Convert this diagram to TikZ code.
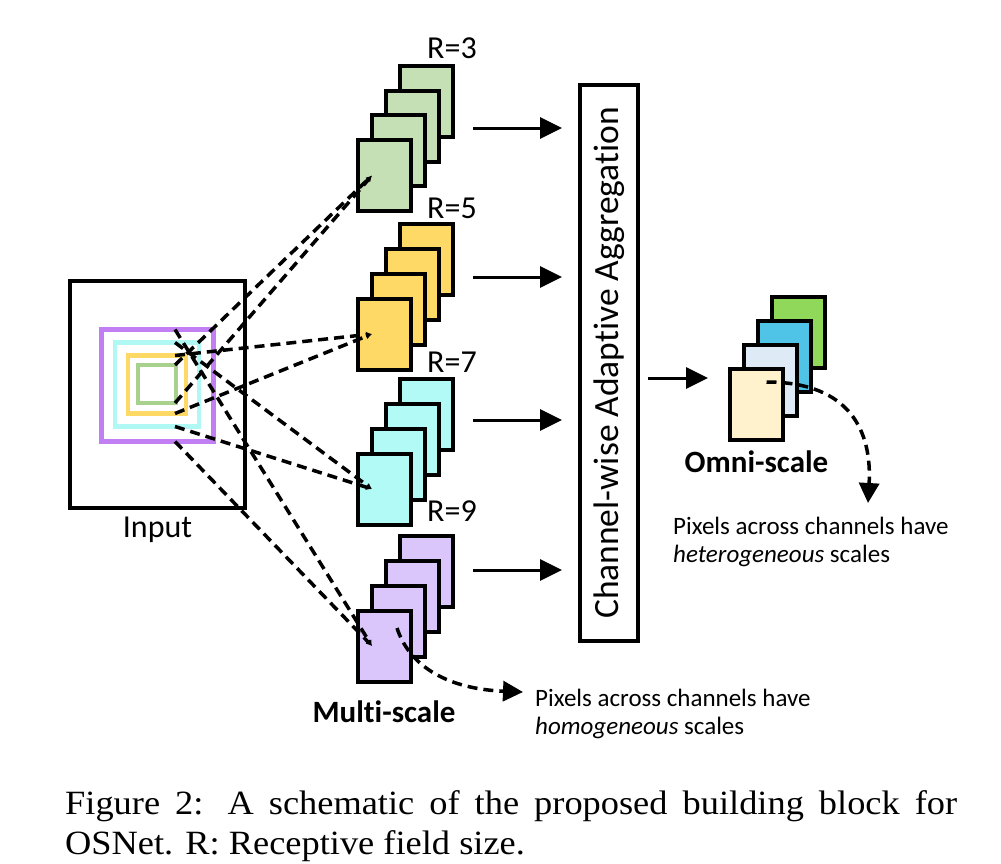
\documentclass[tikz,border=0pt]{standalone}
\usepackage{fontspec}
\setmainfont[Ligatures=NoCommon]{Carlito}
\newfontfamily\capfont[FakeStretch=1.07]{Liberation Serif}
\usetikzlibrary{positioning,calc,arrows.meta}

\definecolor{rfgreen}{HTML}{A9D18E}
\definecolor{rforange}{HTML}{FFD966}
\definecolor{rfcyan}{HTML}{AFF8F4}
\definecolor{rfpurple}{HTML}{C27FF3}
\definecolor{cdgreen}{HTML}{C5E0B4}
\definecolor{cdorange}{HTML}{FFD966}
\definecolor{cdcyan}{HTML}{B1FAF6}
\definecolor{cdpurple}{HTML}{DAC6FB}
\definecolor{omcream}{HTML}{FFF2CC}
\definecolor{omlight}{HTML}{DEEBF7}
\definecolor{omblue}{HTML}{4FC4E6}
\definecolor{omgreen}{HTML}{8FD85A}

\begin{document}
\begin{tikzpicture}[x=1pt,y=-1pt,
    card/.style={draw, line width=4pt, minimum width=53pt, minimum height=71pt, inner sep=0pt, outer sep=0pt},
    field/.style={draw=#1, line width=4.5pt, inner sep=0pt, outer sep=0pt},
    feed/.style={line width=3.5pt, dash pattern=on 10pt off 6pt, -{Latex[length=6pt,width=6pt]}},
    flow/.style={line width=3pt, -{Triangle[length=22pt,width=21pt]}},
    note/.style={inner sep=0pt, align=left, font=\fontsize{25}{28}\selectfont},
    lbl/.style={inner sep=0pt, font=\fontsize{32}{38}\selectfont},
    scl/.style={inner sep=0pt, font=\bfseries\fontsize{31}{34}\selectfont}]
\useasboundingbox (0,0) rectangle (1001,863);

% input and its receptive fields
\node[draw, line width=4.5pt, minimum width=175pt, minimum height=227pt, inner sep=0pt] (input) at (157.5,394.5) {};
\node[lbl, below=7pt of input] (inlbl) {Input};
\node[field=rfpurple, minimum size=112pt] (rfp) at (157.5,385.5) {};
\node[field=rfcyan, minimum size=84pt] (rfc) at (157,384.5) {};
\node[field=rforange, minimum size=58pt] (rfo) at (157,384.5) {};
\node[field=rfgreen, minimum size=38pt] (rfg) at (157,384) {};

% multi-scale stacks
\foreach \s/\cy/\col/\r/\rb in {g/175.5/cdgreen/3/58, o/334/cdorange/5/218, c/489/cdcyan/7/372, p/646/cdpurple/9/521}{
    \foreach \i in {3,2,1,0}
        \node[card, fill=\col] (\s\i) at (384+14.3*\i, \cy-24.7*\i) {};
    \node[lbl, anchor=base] (r\s) at (452,\rb) {R=\r};
}
\node[scl, below=19pt of p0] (multi) {Multi-scale};

% aggregation
\node[draw, line width=4pt, minimum width=58pt, minimum height=556pt] (agg) at (609,363) {};
\node[lbl, rotate=90, font=\fontsize{35.5}{40}\selectfont] (aggtxt) at (agg.center) {Channel-wise Adaptive Aggregation};
\foreach \s/\ay in {g/128, o/277, c/420, p/570}{
    \coordinate (arr\s) at (473,\ay);
    \draw[flow, shorten >=16pt] (arr\s) -- (arr\s -| agg.west);
}

% omni-scale stack
\foreach \i/\col in {3/omgreen, 2/omblue, 1/omlight, 0/omcream}
    \node[card, fill=\col] (w\i) at (756.5+14*\i, 404-24*\i) {};
\node[scl, below=11pt of w0] (omni) {Omni-scale};
\coordinate (arrw) at (648,378);
\draw[flow, shorten >=22pt] (arrw) -- (arrw -| w0.west);

% notes
\node[note, anchor=north west] (hetero) at (673,517) {Pixels across channels have\\\textit{heterogeneous} scales};
\node[note, anchor=north west] (homo) at (535,689) {Pixels across channels have\\\textit{homogeneous} scales};

% receptive field cones
\coordinate (tap) at (175,0);
\foreach \s in {g,o,c,p}{
    \draw[feed] (rf\s.north -| tap) -- ([xshift=-12pt]\s0.center);
    \draw[feed] (rf\s.south -| tap) -- ([xshift=-12pt]\s0.center);
}

\draw[feed, -{Triangle[length=20pt,width=20pt]}] ([xshift=13pt,yshift=18pt]p0.center) .. controls +(13,40) and +(-73,-3) .. ([xshift=-12pt,yshift=-3pt]homo.north west);
\coordinate (wtip) at (868,503);
\draw[feed, -{Triangle[length=20pt,width=20pt]}] ([xshift=10pt,yshift=22pt]w0.center) .. controls +(85,0) and +(4,-70) .. (wtip);

% caption
\node[anchor=base west, inner sep=0pt, font=\capfont\fontsize{34}{38}\selectfont] (cap1) at (65,814) {\makebox[892pt][s]{Figure 2: A schematic of the proposed building block for}};
\node[anchor=base west, inner sep=0pt, font=\capfont\fontsize{34}{38}\selectfont] (cap2) at (65,854) {OSNet. R: Receptive field size.};
\end{tikzpicture}
\end{document}
